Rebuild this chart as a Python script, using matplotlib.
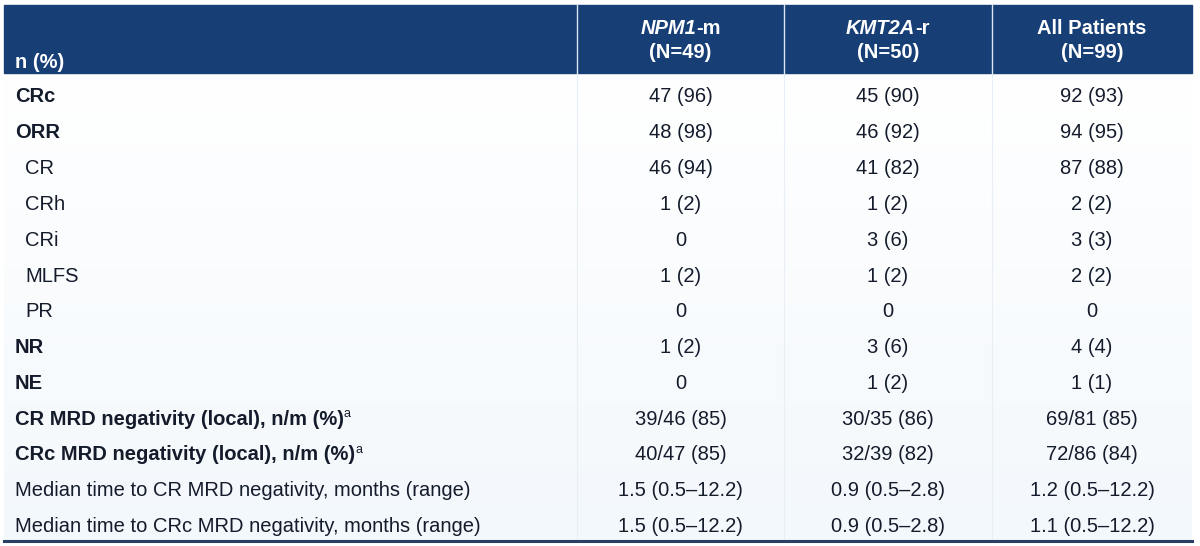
import matplotlib
matplotlib.use("Agg")
import matplotlib.pyplot as plt
from matplotlib.patches import Rectangle
import numpy as np

# table content
row_labels = ["CRc", "ORR", "CR", "CRh", "CRi", "MLFS", "PR", "NR", "NE",
              "CR MRD negativity (local), n/m (%)",
              "CRc MRD negativity (local), n/m (%)",
              "Median time to CR MRD negativity, months (range)",
              "Median time to CRc MRD negativity, months (range)"]
row_style = ["bold", "bold", "sub", "sub", "sub", "sub", "sub", "bold", "bold",
             "bold_a", "bold_a", "plain", "plain"]
npm1_m = ["47 (96)", "48 (98)", "46 (94)", "1 (2)", "0", "1 (2)", "0", "1 (2)", "0",
          "39/46 (85)", "40/47 (85)", "1.5 (0.5\u201312.2)", "1.5 (0.5\u201312.2)"]
kmt2a_r = ["45 (90)", "46 (92)", "41 (82)", "1 (2)", "3 (6)", "1 (2)", "0", "3 (6)", "1 (2)",
           "30/35 (86)", "32/39 (82)", "0.9 (0.5\u20132.8)", "0.9 (0.5\u20132.8)"]
all_pts = ["92 (93)", "94 (95)", "87 (88)", "2 (2)", "3 (3)", "2 (2)", "0", "4 (4)", "1 (1)",
           "69/81 (85)", "72/86 (84)", "1.2 (0.5\u201312.2)", "1.1 (0.5\u201312.2)"]
col_heads = [("NPM1", "-m", "(N=49)"), ("KMT2A", "-r", "(N=50)"), ("All Patients", "", "(N=99)")]

plt.rcParams['font.family'] = ['Liberation Sans', 'DejaVu Sans']
navy = '#173F76'
ink = '#141B2B'
FS = 14.5

fig = plt.figure(figsize=(12, 5.46), dpi=100)
ax = fig.add_axes([0, 0, 1, 1])
ax.set_xlim(0, 1200)
ax.set_ylim(546, 0)
ax.axis('off')

# light background gradient (white at top, faint blue lower down)
grad = np.linspace(0, 1, 100).reshape(-1, 1)
ax.imshow(grad, extent=[4, 1192, 540, 73], cmap=matplotlib.colors.LinearSegmentedColormap.from_list(
    'bg', ['#FFFFFF', '#F3F8FC']), aspect='auto', zorder=0)

# header band
ax.add_patch(Rectangle((4, 5), 1188, 68, color=navy, zorder=1))
col_edges = [577, 784, 992, 1192]
for x in col_edges[:-1]:
    ax.plot([x, x], [5, 73], color='#DCE6F2', lw=1.0, zorder=2)
    ax.plot([x, x], [73, 540], color='#E8EEF5', lw=0.8, zorder=1)
ax.plot([4, 1192], [540.5, 540.5], color='#2A3F66', lw=2.2, zorder=2)

renderer = fig.canvas.get_renderer()


def text_width(s, **kw):
    t = ax.text(0, 0, s, **kw)
    bb = t.get_window_extent(renderer=renderer)
    t.remove()
    return bb.width


def draw_runs(x, y, runs, ha='left', fs=FS, color=ink):
    widths = [text_width(s, fontsize=st.get('fs', fs), fontweight=st.get('weight', 'normal'),
                         fontstyle=st.get('style', 'normal')) for s, st in runs]
    total = sum(widths)
    cx = x - total / 2 if ha == 'center' else x
    for (s, st), w in zip(runs, widths):
        ax.text(cx, y + st.get('dy', 0), s, fontsize=st.get('fs', fs), fontweight=st.get('weight', 'normal'),
                fontstyle=st.get('style', 'normal'), color=color, ha='left', va='center', zorder=3)
        cx += w


# header text
draw_runs(15, 62, [("n (%)", {'weight': 'bold'})], color='white')
centers = [(col_edges[i] + col_edges[i + 1]) / 2 for i in range(3)]
for cx, (ital, rest, nline) in zip(centers, col_heads):
    if rest:
        draw_runs(cx, 28, [(ital, {'weight': 'bold', 'style': 'italic'}), (rest, {'weight': 'bold'})],
                  ha='center', color='white')
    else:
        draw_runs(cx, 28, [(ital, {'weight': 'bold'})], ha='center', color='white')
    draw_runs(cx, 52, [(nline, {'weight': 'bold'})], ha='center', color='white')

# body rows
for i, (lab, st) in enumerate(zip(row_labels, row_style)):
    y = 97 + i * 35.8
    if st == 'bold':
        draw_runs(15, y, [(lab, {'weight': 'bold'})])
    elif st == 'sub':
        draw_runs(25, y, [(lab, {})])
    elif st == 'bold_a':
        draw_runs(15, y, [(lab, {'weight': 'bold'}), ("a", {'fs': 9, 'dy': -5})])
    else:
        draw_runs(15, y, [(lab, {})])
    for cx, col in zip(centers, [npm1_m, kmt2a_r, all_pts]):
        ax.text(cx, y, col[i], fontsize=FS, color=ink, ha='center', va='center', zorder=3)

fig.savefig('out.png', dpi=100)
